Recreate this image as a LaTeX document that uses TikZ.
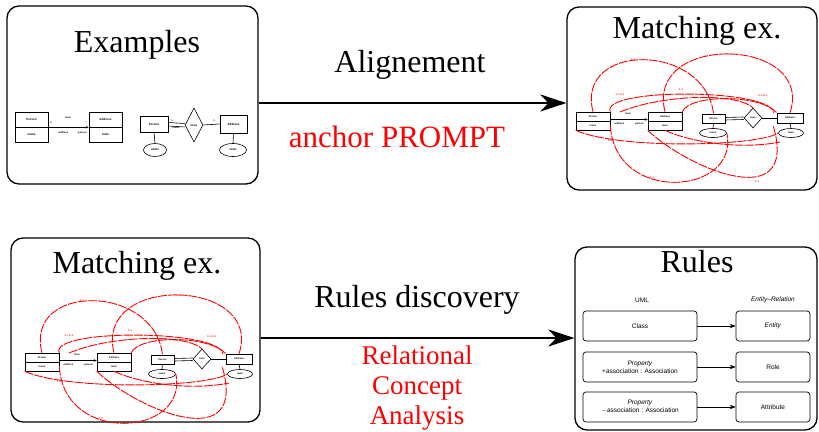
\documentclass[tikz,border=0pt]{standalone}
\usepackage{fontspec}
\setmainfont{Liberation Serif}
\setsansfont{Liberation Sans}
\usetikzlibrary{arrows.meta,shapes.geometric}
\tikzset{
  outerbox/.style={draw, rounded corners=12pt, line width=1.3pt, inner sep=0pt},
  bigtext/.style={font=\rmfamily\fontsize{32}{32}\selectfont, anchor=base, inner sep=0pt},
  redbig/.style={text=red, font=\rmfamily\fontsize{31}{31}\selectfont, anchor=base, inner sep=0pt},
  redmid/.style={text=red, font=\rmfamily\fontsize{27}{27}\selectfont, anchor=base, inner sep=0pt},
  bigarrow/.style={line width=2pt, -{Stealth[length=26pt,width=17pt,inset=8pt]}},
  cell/.style={draw, line width=0.6pt, inner sep=0pt, font=\sffamily\bfseries\fontsize{3}{3}\selectfont},
  cellb/.style={draw, line width=0.6pt, inner sep=0pt, font=\sffamily\bfseries\fontsize{2.5}{2.5}\selectfont},
  tinytext/.style={inner sep=0pt, font=\sffamily\bfseries\fontsize{2.5}{2.5}\selectfont},
  redtext/.style={inner sep=0pt, text=red, font=\sffamily\bfseries\fontsize{2.5}{2.5}\selectfont},
  tinyarrow/.style={line width=0.6pt, -{Stealth[length=3pt,width=2.5pt]}},
  redcurve/.style={draw=red, line width=0.9pt, dash pattern=on 9pt off 1.2pt},
  rulebox/.style={draw, rounded corners=3pt, line width=0.7pt, minimum height=30pt, inner sep=1pt, align=center, font=\sffamily\fontsize{6.5}{8}\selectfont},
  rulearrow/.style={line width=0.8pt, -{Stealth[length=6pt,width=4.5pt]}},
  rulehead/.style={inner sep=0pt, font=\sffamily\fontsize{6.5}{8}\selectfont}
}
\newcommand{\matchdiagram}{%
  \node[cellb, minimum width=34pt, minimum height=9pt] (a1) at (593,116.5) {Person};
  \node[cellb, minimum width=34pt, minimum height=9pt] (a2) at (593,125.5) {name};
  \node[cellb, minimum width=34pt, minimum height=9pt] (b1) at (665,116.5) {Address};
  \node[cellb, minimum width=34pt, minimum height=9pt] (b2) at (665,125.5) {town};
  \draw[tinyarrow] ([yshift=-3pt]a1.east) -- ([yshift=-3pt]b1.west);
  \node[tinytext] (ta) at (628,114) {lives};
  \node[tinytext] (tb) at (619,124) {-address};
  \node[tinytext] (tc) at (639,124) {-person};
  \node[cellb, minimum width=23pt, minimum height=9pt] (e1) at (713.5,118.5) {Person};
  \node[draw, ellipse, line width=0.6pt, minimum width=27pt, minimum height=9pt, inner sep=0pt, font=\sffamily\bfseries\fontsize{2.5}{2.5}\selectfont] (l1) at (713,133) {name};
  \node[draw, diamond, line width=0.6pt, minimum width=18pt, minimum height=20pt, inner sep=0pt, font=\sffamily\bfseries\fontsize{2.5}{2.5}\selectfont] (d) at (753,118) {lives};
  \node[cellb, minimum width=26pt, minimum height=10pt] (e2) at (790,118) {Address};
  \node[draw, ellipse, line width=0.6pt, minimum width=25pt, minimum height=9pt, inner sep=0pt, font=\sffamily\bfseries\fontsize{2.5}{2.5}\selectfont] (l2) at (791,133) {town};
  \draw[line width=0.6pt] ([yshift=1pt]e1.east) -- ([yshift=1pt]d.west);
  \draw[line width=0.6pt] ([yshift=-1.5pt]e1.east) -- ([yshift=-1.5pt]d.west);
  \draw[line width=0.6pt] (d.east) -- (e2.west);
  \draw[line width=0.6pt] (e1.south) -- (l1.north);
  \draw[line width=0.6pt] (e2.south) -- (l2.north);
  % red matching links
  \draw[redcurve] (a1.north) .. controls (575,42) and (705,42) .. (e1.north);
  \draw[redcurve] (b1.north) .. controls (645,32) and (815,37) .. (e2.north);
  \draw[redcurve] (a1.north east) .. controls (600,88) and (770,88) .. ([xshift=-3pt]e2.north west);
  \draw[redcurve] (620,112) .. controls (660,95) and (735,92) .. (d.north);
  \draw[redcurve] (b1.north east) .. controls (690,94) and (760,94) .. (e2.north west);
  \draw[redcurve] (a2.south west) .. controls (620,150) and (760,146) .. (l2.west);
  \draw[redcurve] (a2.east) .. controls (615,205) and (740,195) .. (l1.east);
  \draw[redcurve] (b2.south west) .. controls (690,170) and (800,215) .. (773,125);
  \draw[redcurve] (b2.south) .. controls (690,142) and (740,150) .. (780,142);
  \node[redtext] (r1) at (633,60) {1..1};
  \node[redtext] (r2) at (730,55) {1..1};
  \node[redtext] (r3) at (620,95) {1..* 0..1};
  \node[redtext] (r4) at (763,96) {0..1 0..1};
  \node[redtext] (r5) at (681,90) {1..1};
  \node[redtext] (r6) at (610,141) {1..1};
  \node[redtext] (r7) at (652,178) {1..1};
  \node[redtext] (r8) at (757,182) {1..1};
}
\begin{document}
\begin{tikzpicture}[x=1pt,y=-1pt]
\useasboundingbox (0,0) rectangle (819,431);
% outer boxes
\node[outerbox, minimum width=251pt, minimum height=178pt] (ex) at (132.5,95) {};
\node[outerbox, minimum width=250pt, minimum height=183pt] (m1) at (692,98.5) {};
\node[outerbox, minimum width=249pt, minimum height=184pt] (m2) at (135.5,330) {};
\node[outerbox, minimum width=242pt, minimum height=183pt] (ru) at (696,338.5) {};
% titles
\node[bigtext] (t1) at (137,52) {Examples};
\node[bigtext] (t2) at (697,38) {Matching ex.};
\node[bigtext] (t3) at (137,273) {Matching ex.};
\node[bigtext] (t4) at (697,272) {Rules};
% main arrows and labels
\coordinate (ya) at (0,103);
\coordinate (yb) at (0,338);
\draw[bigarrow] (ex.east |- ya) -- (m1.west |- ya);
\draw[bigarrow] (m2.east |- yb) -- (ru.west |- yb);
\node[bigtext] (al) at (410,72) {Alignement};
\node[redbig] (ap) at (397,147) {anchor PROMPT};
\node[bigtext] (rd) at (417,307) {Rules discovery};
\node[redmid] (rca1) at (417,364.5) {Relational};
\node[redmid] (rca2) at (417,394.5) {Concept};
\node[redmid] (rca3) at (417,424.5) {Analysis};
% examples: UML
\node[cell, minimum width=33pt, minimum height=15pt] (ea1) at (31.5,119.5) {Person};
\node[cell, minimum width=33pt, minimum height=15pt] (ea2) at (31.5,134.5) {name};
\node[cell, minimum width=33pt, minimum height=15pt] (eb1) at (105.5,119.5) {Address};
\node[cell, minimum width=33pt, minimum height=15pt] (eb2) at (105.5,134.5) {town};
\draw[tinyarrow] (ea1.south east) -- (eb1.south west);
\node[tinytext] (x1) at (68,118) {lives};
\node[tinytext] (x2) at (51,123) {1};
\node[tinytext] (x3) at (86,123) {*};
\node[tinytext] (x4) at (63,133) {-address};
\node[tinytext] (x5) at (82,133) {-person};
% examples: ER
\node[cell, minimum width=28pt, minimum height=16pt] (ee1) at (154,124) {Person};
\node[draw, diamond, line width=0.6pt, minimum width=18pt, minimum height=34pt, inner sep=0pt, font=\sffamily\bfseries\fontsize{3}{3}\selectfont] (ed) at (194,125) {lives};
\node[cell, minimum width=27pt, minimum height=18pt] (ee2) at (233.5,124) {Address};
\node[draw, ellipse, line width=0.6pt, minimum width=23pt, minimum height=13pt, inner sep=0pt, font=\sffamily\bfseries\fontsize{3}{3}\selectfont] (el1) at (155,150) {name};
\node[draw, ellipse, line width=0.6pt, minimum width=27pt, minimum height=13pt, inner sep=0pt, font=\sffamily\bfseries\fontsize{3}{3}\selectfont] (el2) at (233,150) {town};
\draw[line width=0.6pt] ([yshift=1.5pt]ee1.east) -- ([yshift=1.5pt]ed.west);
\draw[line width=0.6pt] ([yshift=-2pt]ee1.east) -- ([yshift=-2pt]ed.west);
\draw[line width=0.6pt] (ed.east) -- (ee2.west);
\draw[line width=0.6pt] (ee1.south) -- (el1.north);
\draw[line width=0.6pt] (ee2.south) -- (el2.north);
\node[tinytext] (x6) at (172,121) {1};
\node[tinytext] (x7) at (176,128) {name};
\node[tinytext] (x8) at (214,121) {1};
% matching diagrams
\begin{scope}[name prefix=tr-]
\matchdiagram
\end{scope}
\begin{scope}[name prefix=bl-, shift={(-551,241)}]
\matchdiagram
\end{scope}
% rules
\node[rulehead] (hu) at (642,300) {UML};
\node[rulehead] (he) at (773,300) {\textit{Entity--Relation}};
\node[rulebox, minimum width=114pt] (p1) at (640,326) {Class};
\node[rulebox, minimum width=74pt] (q1) at (773,326) {\textit{Entity}};
\node[rulebox, minimum width=114pt] (p2) at (640,367) {\textit{Property}\\+association : Association};
\node[rulebox, minimum width=74pt] (q2) at (773,367) {Role};
\node[rulebox, minimum width=114pt] (p3) at (640,407) {\textit{Property}\\$-$association : Association};
\node[rulebox, minimum width=74pt] (q3) at (773,407) {Attribute};
\draw[rulearrow] (p1) -- (q1);
\draw[rulearrow] (p2) -- (q2);
\draw[rulearrow] (p3) -- (q3);
\end{tikzpicture}
\end{document}
